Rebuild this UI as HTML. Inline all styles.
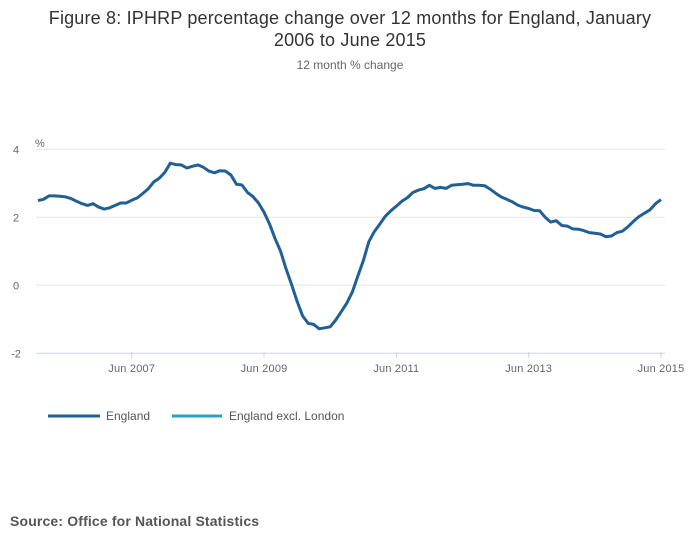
<!DOCTYPE html>
<html><head><meta charset="utf-8"><style>
body{margin:0;background:#fff;width:700px;height:549px;overflow:hidden;font-family:"Liberation Sans",sans-serif}
svg text{font-family:"Liberation Sans",sans-serif}
</style></head><body>
<svg width="700" height="549">
<text x="350" y="24" text-anchor="middle" font-size="18" letter-spacing="0.18" fill="#333">Figure 8: IPHRP percentage change over 12 months for England, January</text>
<text x="350" y="46" text-anchor="middle" font-size="18" letter-spacing="0.18" fill="#333">2006 to June 2015</text>
<text x="350" y="69" text-anchor="middle" font-size="12" fill="#666">12 month % change</text>
<text x="35" y="147" font-size="11" fill="#666">%</text>
<g id="grid"></g><g id="xaxis"></g>
<path id="line" fill="none" stroke="#206095" stroke-width="3" stroke-linejoin="round"/>
<line x1="48" y1="416" x2="100" y2="416" stroke="#206095" stroke-width="3"/>
<text x="106" y="420" font-size="12" fill="#555">England</text>
<line x1="172" y1="416" x2="222" y2="416" stroke="#27a0cc" stroke-width="3"/>
<text x="229" y="420" font-size="12" fill="#555">England excl. London</text>
<text x="10" y="526" font-size="14" font-weight="bold" letter-spacing="0.15" fill="#555">Source: Office for National Statistics</text>
</svg>
<script>
const yTicks=[4,2,0,-2];
const xTickLabels=["Jun 2007","Jun 2009","Jun 2011","Jun 2013","Jun 2015"];
const xTickIndex=[17,41,65,89,113];
const england=[2.49,2.53,2.63,2.63,2.62,2.60,2.55,2.47,2.40,2.35,2.40,2.30,2.24,2.28,2.35,2.42,2.42,2.50,2.57,2.70,2.84,3.04,3.15,3.32,3.59,3.55,3.54,3.45,3.50,3.54,3.47,3.36,3.31,3.37,3.36,3.24,2.97,2.95,2.73,2.61,2.42,2.15,1.80,1.37,1.00,0.48,0.02,-0.47,-0.90,-1.12,-1.15,-1.28,-1.25,-1.22,-1.02,-0.78,-0.53,-0.20,0.27,0.72,1.28,1.58,1.80,2.03,2.19,2.33,2.47,2.58,2.73,2.80,2.84,2.94,2.85,2.88,2.85,2.94,2.96,2.97,2.99,2.94,2.94,2.93,2.83,2.71,2.60,2.53,2.46,2.36,2.30,2.26,2.20,2.19,2.00,1.86,1.90,1.76,1.74,1.66,1.65,1.61,1.55,1.53,1.51,1.43,1.45,1.55,1.59,1.72,1.88,2.02,2.12,2.22,2.40,2.52];
const ns="http://www.w3.org/2000/svg";
const X=i=>38+(661-38)*i/113;
const Y=v=>285.3-v*34;
const g=document.getElementById('grid');
yTicks.forEach(t=>{
  const l=document.createElementNS(ns,'line');
  
  
  l.setAttribute('x1',36);l.setAttribute('x2',665);l.setAttribute('y1',Y(t));l.setAttribute('y2',Y(t));
  l.setAttribute('stroke',t===-2?'#ccd6eb':'#e6e6e6');l.setAttribute('stroke-width',1);
  g.appendChild(l);
  const tx=document.createElementNS(ns,'text');
  
  
  tx.setAttribute('x',16);tx.setAttribute('y',Y(t)+4);tx.setAttribute('font-size',11);tx.setAttribute('fill','#666');tx.setAttribute('text-anchor','middle');
  tx.textContent=t;g.appendChild(tx);
});
const xa=document.getElementById('xaxis');
xTickIndex.forEach((ix,k)=>{
  const l=document.createElementNS(ns,'line');
  
  
  l.setAttribute('x1',X(ix));l.setAttribute('x2',X(ix));l.setAttribute('y1',352);l.setAttribute('y2',358);
  l.setAttribute('stroke','#ccd6eb');xa.appendChild(l);
  const tx=document.createElementNS(ns,'text');
  
  
  tx.setAttribute('x',X(ix));tx.setAttribute('y',372);tx.setAttribute('font-size',11);tx.setAttribute('letter-spacing','0.2');tx.setAttribute('fill','#666');tx.setAttribute('text-anchor','middle');
  tx.textContent=xTickLabels[k];xa.appendChild(tx);
});
document.getElementById('line').setAttribute('d',england.map((v,i)=>(i?'L':'M')+X(i).toFixed(1)+' '+Y(v).toFixed(1)).join(''));
</script>
</body></html>
